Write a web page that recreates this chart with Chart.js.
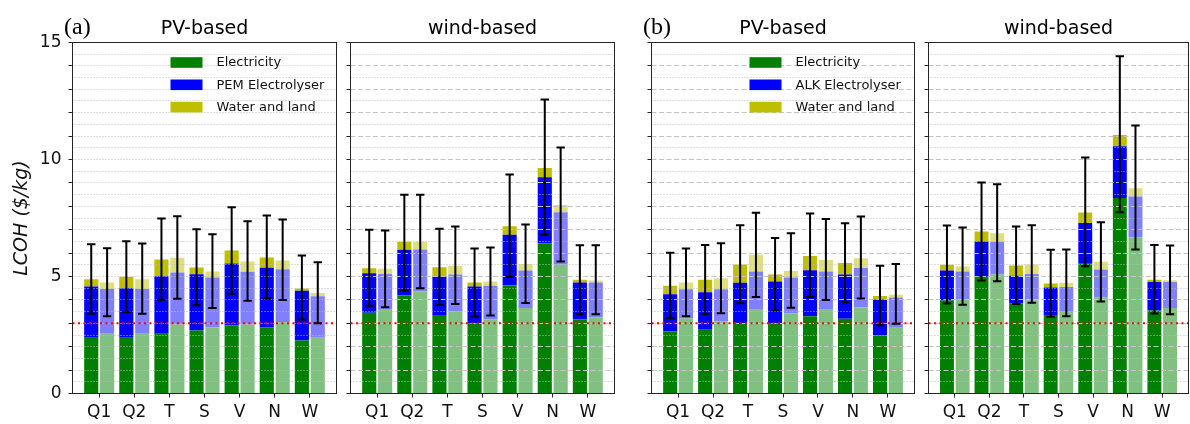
<!DOCTYPE html>
<html>
<head>
<meta charset="utf-8">
<title>LCOH by site</title>
<script src="https://cdn.jsdelivr.net/npm/chart.js@4.4.1/dist/chart.umd.min.js"></script>
<style>
    html, body { margin: 0; padding: 0; background: #fff; }
    #wrap { position: relative; width: 1190px; height: 424px; overflow: hidden; }
    #wrap canvas { position: absolute; left: 0; top: 0; }
</style>
</head>
<body>
<div id="wrap"></div>
<script>
'use strict';

var sites = ['Q1', 'Q2', 'T', 'S', 'V', 'N', 'W'];
var targetCost = 3;   // $/kg

// (a) PEM, PV-based. 1 = solid bar, 2 = faded bar; cost parts in $/kg
var aPvElec1  = [2.41, 2.41, 2.59, 2.69, 2.91, 2.83, 2.26];
var aPvElyz1  = [2.16, 2.09, 2.42, 2.41, 2.65, 2.54, 2.13];
var aPvWater1 = [0.31, 0.49, 0.72, 0.28, 0.55, 0.44, 0.10];
var aPvLo1    = [3.41, 3.47, 4.00, 3.77, 4.26, 4.06, 3.16];
var aPvHi1    = [6.38, 6.51, 7.48, 7.02, 7.96, 7.61, 5.90];
var aPvElec2  = [2.55, 2.59, 2.95, 2.83, 2.95, 3.05, 2.38];
var aPvElyz2  = [1.92, 1.88, 2.22, 2.13, 2.25, 2.26, 1.78];
var aPvWater2 = [0.27, 0.41, 0.63, 0.25, 0.44, 0.37, 0.14];
var aPvLo2    = [3.30, 3.41, 4.05, 3.65, 3.96, 4.00, 3.00];
var aPvHi2    = [6.21, 6.41, 7.58, 6.81, 7.36, 7.44, 5.61];

// (a) PEM, wind-based
var aWindElec1  = [3.45, 4.19, 3.35, 3.00, 4.62, 6.42, 3.16];
var aWindElyz1  = [1.69, 1.95, 1.65, 1.57, 2.16, 2.82, 1.58];
var aWindWater1 = [0.21, 0.34, 0.40, 0.17, 0.37, 0.40, 0.12];
var aWindLo1    = [3.75, 4.40, 3.79, 3.29, 4.99, 6.78, 3.39];
var aWindHi1    = [7.00, 8.49, 7.04, 6.20, 9.36, 12.56, 6.34];
var aWindElec2  = [3.58, 4.36, 3.52, 3.16, 3.65, 5.50, 3.26];
var aWindElyz2  = [1.53, 1.79, 1.57, 1.44, 1.61, 2.25, 1.48];
var aWindWater2 = [0.22, 0.33, 0.37, 0.19, 0.27, 0.31, 0.09];
var aWindLo2    = [3.69, 4.50, 3.82, 3.33, 3.87, 5.64, 3.39];
var aWindHi2    = [6.97, 8.49, 7.14, 6.24, 7.22, 10.51, 6.34];

// (b) ALK, PV-based
var bPvElec1  = [2.65, 2.72, 2.97, 3.00, 3.30, 3.19, 2.49];
var bPvElyz1  = [1.59, 1.61, 1.76, 1.79, 1.97, 1.90, 1.53];
var bPvWater1 = [0.36, 0.53, 0.78, 0.30, 0.61, 0.49, 0.15];
var bPvLo1    = [3.22, 3.40, 3.86, 3.56, 4.12, 3.89, 2.92];
var bPvHi1    = [6.01, 6.35, 7.19, 6.65, 7.69, 7.28, 5.46];
var bPvElec2  = [3.20, 3.08, 3.58, 3.43, 3.58, 3.68, 2.81];
var bPvElyz2  = [1.26, 1.38, 1.63, 1.53, 1.63, 1.68, 1.29];
var bPvWater2 = [0.28, 0.47, 0.72, 0.28, 0.50, 0.42, 0.12];
var bPvLo2    = [3.30, 3.43, 4.12, 3.66, 4.00, 4.06, 2.98];
var bPvHi2    = [6.20, 6.42, 7.72, 6.85, 7.46, 7.56, 5.53];

// (b) ALK, wind-based
var bWindElec1  = [3.97, 4.99, 3.86, 3.36, 5.58, 8.36, 3.55];
var bWindElyz1  = [1.29, 1.51, 1.17, 1.17, 1.71, 2.21, 1.21];
var bWindWater1 = [0.24, 0.42, 0.44, 0.17, 0.45, 0.48, 0.10];
var bWindLo1    = [3.85, 4.83, 3.82, 3.28, 5.44, 7.75, 3.42];
var bWindHi1    = [7.18, 9.02, 7.14, 6.14, 10.09, 14.41, 6.35];
var bWindElec2  = [4.03, 5.10, 3.97, 3.49, 4.10, 6.67, 3.65];
var bWindElyz2  = [1.18, 1.38, 1.14, 1.06, 1.20, 1.75, 1.11];
var bWindWater2 = [0.22, 0.37, 0.40, 0.18, 0.33, 0.35, 0.08];
var bWindLo2    = [3.79, 4.80, 3.88, 3.30, 3.93, 6.15, 3.39];
var bWindHi2    = [7.09, 8.94, 7.19, 6.15, 7.32, 11.45, 6.32];

var SOLID = ['#008000', '#0000ff', '#bfbf00'];
var FADED = ['#80c080', '#8080ff', '#dfdf80'];
var FONT = '"DejaVu Sans", sans-serif';
var TOP = 42.5, BOTTOM = 393.5;

var panels = [
    { tag: '(a)', title: 'PV-based', left: 72.5, right: 336.5, legend: 'PEM Electrolyser', plainGrid: true,
      bars: [[aPvElec1, aPvElyz1, aPvWater1, aPvLo1, aPvHi1],
             [aPvElec2, aPvElyz2, aPvWater2, aPvLo2, aPvHi2]] },
    { title: 'wind-based', left: 350.5, right: 614.5,
      bars: [[aWindElec1, aWindElyz1, aWindWater1, aWindLo1, aWindHi1],
             [aWindElec2, aWindElyz2, aWindWater2, aWindLo2, aWindHi2]] },
    { tag: '(b)', title: 'PV-based', left: 651.5, right: 914.5, legend: 'ALK Electrolyser',
      bars: [[bPvElec1, bPvElyz1, bPvWater1, bPvLo1, bPvHi1],
             [bPvElec2, bPvElyz2, bPvWater2, bPvLo2, bPvHi2]] },
    { title: 'wind-based', left: 928.5, right: 1188.5,
      bars: [[bWindElec1, bWindElyz1, bWindWater1, bWindLo1, bWindHi1],
             [bWindElec2, bWindElyz2, bWindWater2, bWindLo2, bWindHi2]] }
];

function hline(ctx, x1, x2, y) {
    ctx.beginPath();
    ctx.moveTo(x1, y);
    ctx.lineTo(x2, y);
    ctx.stroke();
}

function decorations(panel) {
    return {
        id: 'panelDeco',
        afterDatasetsDraw: function(chart) {
            var ctx = chart.ctx;
            var area = chart.chartArea;
            var y = chart.scales.y;
            ctx.save();

            // grid sits above the bars: dashed on whole units, dotted on halves
            ctx.lineWidth = 1;
            for (var v = 0.5; v < 15; v += 0.5) {
                var whole = v % 1 === 0 && !panel.plainGrid;
                var py = Math.round(y.getPixelForValue(v) - 0.5) + 0.5;
                ctx.setLineDash(whole ? [5, 2.5] : [1, 2]);
                ctx.strokeStyle = whole ? '#c4c4c4' : '#bdbdbd';
                hline(ctx, area.left, area.right, py);
            }

            // target cost line
            ctx.setLineDash([2, 3.5]);
            ctx.strokeStyle = '#ff0000';
            ctx.lineWidth = 2;
            hline(ctx, area.left, area.right, y.getPixelForValue(targetCost));

            // error bars on top of each stack
            ctx.setLineDash([]);
            ctx.strokeStyle = '#000';
            ctx.lineWidth = 2;
            panel.bars.forEach(function(set, k) {
                var meta = chart.getDatasetMeta(k * 3 + 2);
                meta.data.forEach(function(bar, i) {
                    var lo = y.getPixelForValue(set[3][i]);
                    var hi = y.getPixelForValue(set[4][i]);
                    ctx.beginPath();
                    ctx.moveTo(bar.x, lo);
                    ctx.lineTo(bar.x, hi);
                    ctx.moveTo(bar.x - 4.2, lo);
                    ctx.lineTo(bar.x + 4.2, lo);
                    ctx.moveTo(bar.x - 4.2, hi);
                    ctx.lineTo(bar.x + 4.2, hi);
                    ctx.stroke();
                });
            });
            ctx.restore();
        },
        afterDraw: function(chart) {
            var ctx = chart.ctx;
            var area = chart.chartArea;
            ctx.save();

            ctx.strokeStyle = '#262626';
            ctx.lineWidth = 1;
            ctx.strokeRect(area.left, area.top, area.right - area.left, area.bottom - area.top);

            ctx.fillStyle = '#000';
            ctx.textAlign = 'center';
            ctx.textBaseline = 'alphabetic';
            ctx.font = '19px ' + FONT;
            ctx.fillText(panel.title, (area.left + area.right) / 2, 33.5);

            if (panel.tag) {
                ctx.textAlign = 'left';
                ctx.font = '24px "Liberation Serif", serif';
                ctx.fillText(panel.tag, area.left - 8.5, 34);
            }

            if (panel.legend) {
                var names = ['Electricity', panel.legend, 'Water and land'];
                var lx = area.left + 98;
                ctx.font = '13px ' + FONT;
                ctx.textAlign = 'left';
                ctx.textBaseline = 'middle';
                names.forEach(function(name, j) {
                    var cy = 62.5 + j * 22.3;
                    ctx.fillStyle = SOLID[j];
                    ctx.fillRect(lx, cy - 5.3, 32, 10.6);
                    ctx.fillStyle = '#111';
                    ctx.fillText(name, lx + 46, cy + 0.5);
                });
            }
            ctx.restore();
        }
    };
}

function makeChart(panel, n) {
    var canvas = document.createElement('canvas');
    canvas.width = 1190;
    canvas.height = 424;
    document.getElementById('wrap').appendChild(canvas);

    var first = n === 0;
    var axisW = first ? 72.5 : 6;
    var names = ['Electricity', panel.legend || '', 'Water and land'];
    var datasets = [];
    panel.bars.forEach(function(set, k) {
        for (var j = 0; j < 3; j++) {
            datasets.push({
                label: names[j],
                data: set[j].map(function(v, i) { return { x: i, y: v }; }),
                backgroundColor: (k === 0 ? SOLID : FADED)[j],
                stack: 'bar' + k,
                borderWidth: 0,
                barPercentage: 0.89,
                categoryPercentage: 0.905
            });
        }
    });

    return new Chart(canvas.getContext('2d'), {
        type: 'bar',
        data: { datasets: datasets },
        options: {
            responsive: false,
            animation: false,
            events: [],
            layout: {
                autoPadding: false,
                padding: { left: panel.left - axisW, right: 1190 - panel.right, top: TOP, bottom: 0 }
            },
            plugins: {
                legend: { display: false },
                tooltip: { enabled: false }
            },
            scales: {
                x: {
                    type: 'linear',
                    min: -0.76,
                    max: 6.76,
                    offset: false,
                    grid: { offset: false, drawOnChartArea: false, tickLength: 4, tickColor: '#262626', tickWidth: 1 },
                    border: { display: false },
                    afterBuildTicks: function(s) {
                        s.ticks = sites.map(function(name, i) { return { value: i }; });
                    },
                    afterFit: function(s) { s.height = 424 - BOTTOM; },
                    ticks: {
                        autoSkip: false,
                        maxRotation: 0,
                        padding: 5,
                        color: '#111',
                        font: { family: FONT, size: 17 },
                        callback: function(v) { return sites[v]; }
                    }
                },
                y: {
                    min: 0,
                    max: 15,
                    stacked: true,
                    grid: { drawOnChartArea: false, tickLength: 4, tickColor: '#262626', tickWidth: 1 },
                    border: { display: false },
                    afterBuildTicks: function(s) {
                        var t = [];
                        for (var v = 0; v <= 15; v++) t.push({ value: v });
                        s.ticks = t;
                    },
                    afterFit: function(s) { s.width = axisW; },
                    ticks: {
                        display: first,
                        autoSkip: false,
                        padding: 7,
                        color: '#111',
                        font: { family: FONT, size: 17 },
                        callback: function(v) { return v % 5 === 0 ? String(v) : ''; }
                    },
                    title: {
                        display: first,
                        text: 'LCOH ($/kg)',
                        color: '#111',
                        font: { family: FONT, size: 19, style: 'italic' },
                        padding: { top: 11, bottom: 0 }
                    }
                }
            }
        },
        plugins: [decorations(panel)]
    });
}

panels.forEach(makeChart);
</script>
</body>
</html>
